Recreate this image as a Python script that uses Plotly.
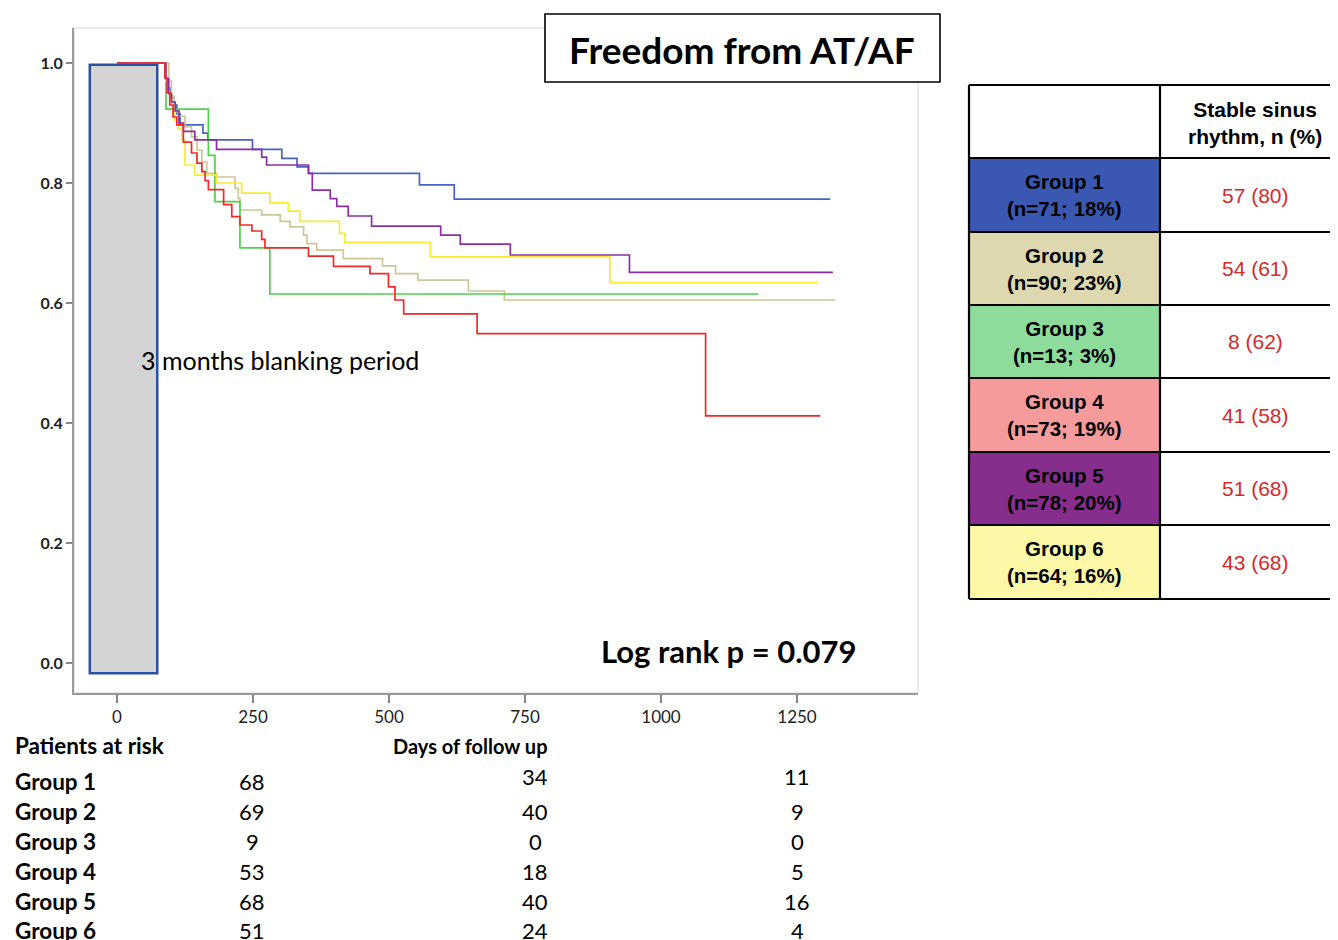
import plotly.graph_objects as go

# page body adds an 8px margin, so the figure is drawn 8px smaller and coordinates are shifted
OFF = 8
W, H = 1338 - OFF, 940 - OFF

# ---------------- data ----------------
groups = ["Group 1", "Group 2", "Group 3", "Group 4", "Group 5", "Group 6"]
group_n = ["(n=71; 18%)", "(n=90; 23%)", "(n=13; 3%)", "(n=73; 19%)", "(n=78; 20%)", "(n=64; 16%)"]
stable_sr = ["57 (80)", "54 (61)", "8 (62)", "41 (58)", "51 (68)", "43 (68)"]
line_colors = ["#4563c4", "#cdc796", "#4fd04f", "#f02a2a", "#8a2fa3", "#f7ec34"]
cell_colors = ["#3a57b2", "#ddd8b0", "#8edc9c", "#f69b9b", "#872d8b", "#fdf8a8"]

g1_days = [0, 90, 94, 98, 104, 110, 116, 158, 167, 249, 303, 331, 352, 556, 620, 1311]
g1_surv = [1.0, 0.972, 0.958, 0.944, 0.930, 0.915, 0.897, 0.883, 0.872, 0.856, 0.841, 0.827, 0.816, 0.797, 0.773, 0.773]

g2_days = [0, 95, 100, 104, 113, 125, 137, 147, 156, 165, 183, 217, 223, 226, 266, 300, 318, 343, 349, 367, 416, 488, 512, 553, 646, 712, 1321]
g2_surv = [1.0, 0.970, 0.945, 0.919, 0.911, 0.894, 0.877, 0.855, 0.835, 0.816, 0.810, 0.791, 0.774, 0.755, 0.747, 0.736, 0.727, 0.713, 0.699, 0.688, 0.674, 0.662, 0.649, 0.638, 0.620, 0.605, 0.605]

g3_days = [0, 90, 168, 180, 226, 281, 1179]
g3_surv = [1.0, 0.923, 0.846, 0.769, 0.692, 0.615, 0.615]

g4_days = [0, 88, 92, 97, 103, 110, 122, 137, 147, 156, 162, 168, 196, 211, 226, 248, 266, 272, 352, 398, 465, 499, 511, 527, 662, 1082, 1293]
g4_surv = [1.0, 0.975, 0.950, 0.930, 0.910, 0.897, 0.868, 0.850, 0.833, 0.819, 0.804, 0.789, 0.764, 0.744, 0.730, 0.720, 0.706, 0.692, 0.678, 0.661, 0.649, 0.627, 0.605, 0.582, 0.549, 0.412, 0.412]

g5_days = [0, 90, 95, 100, 107, 114, 122, 143, 183, 266, 275, 352, 359, 392, 404, 425, 468, 595, 631, 723, 942, 1316]
g5_surv = [1.0, 0.974, 0.949, 0.935, 0.920, 0.900, 0.886, 0.872, 0.856, 0.843, 0.830, 0.816, 0.788, 0.774, 0.761, 0.745, 0.728, 0.713, 0.698, 0.680, 0.651, 0.651]

g6_days = [0, 90, 95, 100, 106, 112, 119, 125, 143, 183, 229, 281, 315, 336, 409, 419, 576, 906, 1287]
g6_surv = [1.0, 0.970, 0.950, 0.930, 0.905, 0.890, 0.872, 0.830, 0.813, 0.800, 0.783, 0.767, 0.753, 0.736, 0.716, 0.701, 0.677, 0.634, 0.634]

risk_times = [250, 750, 1250]
risk_at_250 = [68, 69, 9, 53, 68, 51]
risk_at_750 = [34, 40, 0, 18, 40, 24]
risk_at_1250 = [11, 9, 0, 5, 16, 4]

x_ticks = [0, 250, 500, 750, 1000, 1250]
y_ticks = [0.0, 0.2, 0.4, 0.6, 0.8, 1.0]

curves = [(g1_days, g1_surv), (g2_days, g2_surv), (g3_days, g3_surv),
          (g4_days, g4_surv), (g5_days, g5_surv), (g6_days, g6_surv)]

# ---------------- helpers (page pixel -> paper) ----------------
def px(x):
    return (x - OFF) / W

def py(y):
    return 1 - (y - OFF) / H

FONT = "Lato"
TFONT = "Liberation Sans"

fig = go.Figure()

draw_order = [0, 1, 2, 5, 4, 3]
for i in draw_order:
    d, s = curves[i]
    fig.add_trace(go.Scatter(x=d, y=s, mode="lines", line_shape="hv",
                             line=dict(color=line_colors[i], width=1.7),
                             name=groups[i], hoverinfo="skip"))

plot_l, plot_r, plot_t, plot_b = 74, 918, 28, 693
x0_px, px_per_day = 117, 136 / 250
y0_px, px_per_unit = 663, 600

xr = [(plot_l - x0_px) / px_per_day, (plot_r - x0_px) / px_per_day]
yr = [(y0_px - plot_b) / px_per_unit, (y0_px - plot_t) / px_per_unit]

shapes = []
shapes.append(dict(type="rect", xref="paper", yref="paper",
                   x0=px(plot_l), x1=px(plot_r), y0=py(plot_b), y1=py(plot_t),
                   line=dict(color="#e2e2e2", width=1.5), layer="below"))
shapes.append(dict(type="rect", xref="x", yref="y", x0=-50, x1=74, y0=-0.017, y1=0.997,
                   fillcolor="#d3d3d3", line=dict(color="#2b4fa3", width=2.5), layer="below"))
shapes.append(dict(type="rect", xref="paper", yref="paper",
                   x0=px(545), x1=px(940), y0=py(82), y1=py(14),
                   fillcolor="white", line=dict(color="black", width=1.6), layer="above"))

annotations = []
annotations.append(dict(xref="paper", yref="paper", x=px(742), y=py(49),
                        text="<b>Freedom from AT/AF</b>", showarrow=False,
                        font=dict(family=FONT, size=37, color="black"),
                        xanchor="center", yanchor="middle"))
annotations.append(dict(xref="paper", yref="paper", x=px(139), y=py(360),
                        text="3 months blanking period", showarrow=False,
                        font=dict(family=FONT, size=25, color="black"),
                        xanchor="left", yanchor="middle"))
annotations.append(dict(xref="paper", yref="paper", x=px(859), y=py(651),
                        text="<b>Log rank p = 0.079</b>", showarrow=False,
                        font=dict(family=FONT, size=31, color="black"),
                        xanchor="right", yanchor="middle"))

annotations.append(dict(xref="paper", yref="paper", x=px(13), y=py(745),
                        text="<b>Patients at risk</b>", showarrow=False,
                        font=dict(family=FONT, size=22.5, color="black"),
                        xanchor="left", yanchor="middle"))
annotations.append(dict(xref="paper", yref="paper", x=px(470), y=py(746),
                        text="<b>Days of follow up</b>", showarrow=False,
                        font=dict(family=FONT, size=20, color="black"),
                        xanchor="center", yanchor="middle"))
row_y = [781, 811, 841, 871, 901, 930]
col_x = [252, 535, 797]
risk_cols = [risk_at_250, risk_at_750, risk_at_1250]
for r, g in enumerate(groups):
    annotations.append(dict(xref="paper", yref="paper", x=px(13), y=py(row_y[r]),
                            text="<b>" + g + "</b>", showarrow=False,
                            font=dict(family=FONT, size=22.5, color="black"),
                            xanchor="left", yanchor="middle"))
    for c, col in enumerate(risk_cols):
        yy = row_y[r] - (5 if (r == 0 and c > 0) else 0)
        annotations.append(dict(xref="paper", yref="paper", x=px(col_x[c]), y=py(yy),
                                text=str(col[r]), showarrow=False,
                                font=dict(family=FONT, size=22, color="black"),
                                xanchor="center", yanchor="middle"))

# ---------------- side table ----------------
t_l, t_m, t_r = 969, 1160, 1345
row_edges = [85, 158, 232, 305, 378, 452, 525, 599]
for r in range(6):
    shapes.append(dict(type="rect", xref="paper", yref="paper",
                       x0=px(t_l), x1=px(t_m), y0=py(row_edges[r + 2]), y1=py(row_edges[r + 1]),
                       fillcolor=cell_colors[r], line=dict(width=0), layer="above"))
for yv in row_edges:
    shapes.append(dict(type="line", xref="paper", yref="paper",
                       x0=px(t_l), x1=px(t_r), y0=py(yv), y1=py(yv),
                       line=dict(color="black", width=2.2), layer="above"))
for xv in [t_l, t_m]:
    shapes.append(dict(type="line", xref="paper", yref="paper",
                       x0=px(xv), x1=px(xv), y0=py(row_edges[0]), y1=py(row_edges[-1]),
                       line=dict(color="black", width=2.2), layer="above"))

annotations.append(dict(xref="paper", yref="paper", x=px(1255), y=py(123),
                        text="<b>Stable sinus<br>rhythm, n (%)</b>", showarrow=False,
                        font=dict(family=TFONT, size=21, color="black"),
                        xanchor="center", yanchor="middle", align="center"))
for r in range(6):
    cy = (row_edges[r + 1] + row_edges[r + 2]) / 2
    annotations.append(dict(xref="paper", yref="paper", x=px(1064), y=py(cy),
                            text="<b>" + groups[r] + "<br>" + group_n[r] + "</b>", showarrow=False,
                            font=dict(family=TFONT, size=20.5, color="black"),
                            xanchor="center", yanchor="middle", align="center"))
    annotations.append(dict(xref="paper", yref="paper", x=px(1255), y=py(cy),
                            text=stable_sr[r], showarrow=False,
                            font=dict(family=TFONT, size=21, color="#d42a2a"),
                            xanchor="center", yanchor="middle"))

fig.update_layout(
    width=W, height=H,
    margin=dict(l=0, r=0, t=0, b=0),
    paper_bgcolor="white", plot_bgcolor="white",
    showlegend=False,
    shapes=shapes, annotations=annotations,
    xaxis=dict(domain=[px(plot_l), px(plot_r)], range=xr, tickvals=x_ticks,
               ticks="outside", ticklen=8, tickwidth=1.5, tickcolor="#888888",
               showline=True, linecolor="#9a9a9a", linewidth=2,
               showgrid=False, zeroline=False,
               tickfont=dict(family=FONT, size=17, color="#222222")),
    yaxis=dict(domain=[py(plot_b), py(plot_t)], range=yr, tickvals=y_ticks,
               tickformat=".1f", ticks="outside", ticklen=6, tickwidth=1.5,
               tickcolor="#888888", showline=True, linecolor="#9a9a9a", linewidth=2,
               showgrid=False, zeroline=False,
               tickfont=dict(family=FONT, size=16, color="#222222", weight="bold")),
)

fig.write_html("out.html")
